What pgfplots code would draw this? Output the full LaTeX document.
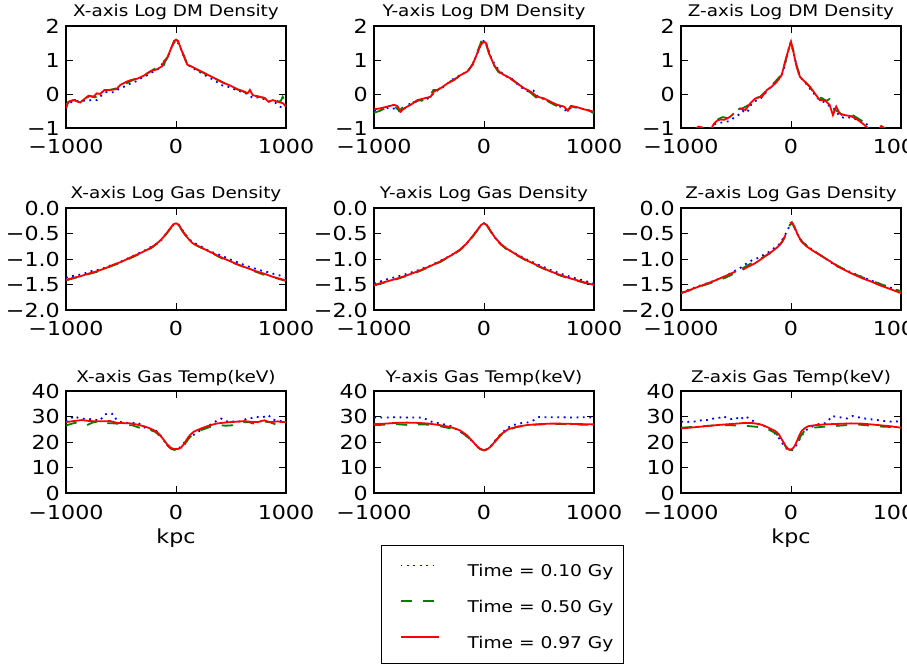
\documentclass[border=0pt]{standalone}
\usepackage{fontspec}
\setmainfont{DejaVu Sans}[FakeStretch=1.15]
\usepackage{pgfplots}
\pgfplotsset{compat=1.18}
\newcommand\tickfont{\fontsize{19.3}{19.3}\selectfont}
\newcommand\titlefont{\fontsize{16}{16}\selectfont}
\newcommand\legfont{\fontsize{16.2}{16.2}\selectfont}
\definecolor{mplgreen}{rgb}{0,0.5,0}
\pgfplotsset{
  panel/.style={scale only axis, width=220pt, height=102pt,
    xmin=-1000, xmax=1000, xtick={-1000,0,1000}, xticklabels={−1000,0,1000},
    unbounded coords=jump,
    axis line style={line width=1.1pt},
    every tick/.style={black, line width=0.8pt},
    major tick length=7pt,
    title style={font=\titlefont, anchor=base, yshift=3pt, inner sep=0pt},
    xticklabel style={font=\tickfont, anchor=base, inner sep=0pt, yshift=-26pt},
    yticklabel style={font=\tickfont, anchor=east, inner sep=0pt, xshift=-6pt},
    xlabel style={font=\tickfont, at={(axis description cs:0.5,0)}, anchor=base, yshift=-50pt, inner sep=0pt},
  },
  dmrow/.style={ymin=-1, ymax=2, ytick={-1,0,1,2}, yticklabels={−1,0,1,2}},
  gasrow/.style={ymin=-2, ymax=0, ytick={-2,-1.5,-1,-0.5,0}, yticklabels={−2.0,−1.5,−1.0,−0.5,0.0}},
  temprow/.style={ymin=0, ymax=40, ytick={0,10,20,30,40}, yticklabels={0,10,20,30,40}},
  sa/.style={blue, line width=1.8pt, dash pattern=on 1.8pt off 4.6pt},
  sb/.style={mplgreen, line width=1.8pt, dash pattern=on 11pt off 11pt},
  sc/.style={red, line width=1.8pt},
}
\begin{document}
\begin{tikzpicture}
% ---------------- Row 1: DM density ----------------
\begin{axis}[panel, dmrow, at={(66pt,537pt)}, anchor=south west, title={X-axis Log DM Density}]
\addplot[sa] coordinates {(-1000,-0.38)(-970,-0.26)(-930,-0.22)(-880,-0.2)(-840,-0.2)(-800,-0.2)(-760,-0.17)(-720,-0.18)(-680,-0.05)(-640,0.05)(-600,0.05)(-560,0.05)(-520,0.15)(-480,0.2)(-440,0.28)(-400,0.32)(-360,0.38)(-320,0.46)(-280,0.52)(-240,0.6)(-200,0.67)(-150,0.76)(-110,0.96)(-90,1.0)(-60,1.2)(-30,1.45)(0,1.58)(30,1.45)(60,1.2)(100,0.88)(150,0.76)(200,0.68)(250,0.58)(300,0.48)(350,0.41)(400,0.28)(450,0.22)(500,0.2)(550,0.1)(600,0.07)(650,0.0)(700,-0.12)(750,-0.1)(800,-0.15)(850,-0.22)(900,-0.25)(950,-0.38)(1000,-0.35)};
\addplot[sb] coordinates {(-1000,-0.30)(-970,-0.22)(-930,-0.18)(-880,-0.17)(-850,-0.12)(-820,-0.12)(-780,-0.06)(-740,-0.1)(-700,-0.05)(-660,0.08)(-600,0.12)(-540,0.17)(-500,0.25)(-440,0.33)(-400,0.40)(-350,0.47)(-300,0.53)(-250,0.63)(-200,0.73)(-150,0.80)(-120,0.75)(-100,0.95)(-70,1.12)(-40,1.35)(-15,1.55)(0,1.60)(20,1.55)(60,1.22)(100,0.90)(130,0.84)(170,0.76)(200,0.70)(250,0.62)(300,0.53)(350,0.46)(400,0.38)(450,0.30)(500,0.22)(550,0.14)(600,0.09)(650,0.01)(700,-0.04)(750,-0.07)(800,-0.12)(850,-0.18)(900,-0.20)(950,-0.22)(970,-0.08)(1000,-0.30)};
\addplot[sc] coordinates {(-1000,-0.42)(-979,-0.23)(-933,-0.18)(-872,-0.25)(-826,-0.13)(-796,-0.05)(-750,-0.08)(-720,0.02)(-690,0.0)(-650,0.12)(-597,0.12)(-542,0.14)(-505,0.27)(-444,0.37)(-399,0.42)(-353,0.45)(-292,0.54)(-231,0.67)(-177,0.72)(-125,0.82)(-110,0.96)(-79,1.07)(-49,1.31)(-18,1.56)(0,1.59)(18,1.56)(58,1.22)(103,0.86)(134,0.82)(164,0.77)(195,0.72)(256,0.62)(316,0.52)(377,0.42)(438,0.32)(499,0.24)(560,0.14)(621,0.07)(651,0.02)(672,0.12)(697,-0.03)(743,-0.08)(804,-0.11)(840,-0.23)(880,-0.18)(925,-0.23)(971,-0.27)(1000,-0.37)};
\end{axis}
\begin{axis}[panel, dmrow, at={(374pt,537pt)}, anchor=south west, title={Y-axis Log DM Density}]
\addplot[sa] coordinates {(-1000,-0.48)(-950,-0.45)(-900,-0.42)(-850,-0.4)(-800,-0.45)(-760,-0.52)(-720,-0.42)(-680,-0.3)(-640,-0.25)(-600,-0.22)(-550,-0.18)(-500,-0.12)(-450,0.05)(-400,0.15)(-350,0.25)(-300,0.4)(-250,0.5)(-200,0.58)(-150,0.66)(-100,0.88)(-60,1.2)(-30,1.45)(0,1.58)(30,1.4)(60,1.1)(100,0.85)(150,0.65)(200,0.52)(250,0.46)(300,0.3)(350,0.17)(400,0.08)(450,0.1)(500,-0.12)(550,-0.15)(600,-0.22)(650,-0.32)(700,-0.38)(750,-0.5)(800,-0.38)(850,-0.4)(900,-0.44)(950,-0.48)(1000,-0.5)};
\addplot[sb] coordinates {(-1000,-0.55)(-950,-0.5)(-900,-0.42)(-850,-0.38)(-800,-0.4)(-770,-0.5)(-740,-0.4)(-700,-0.33)(-650,-0.25)(-600,-0.2)(-550,-0.17)(-500,-0.1)(-460,0.12)(-420,0.12)(-380,0.22)(-340,0.3)(-300,0.38)(-260,0.45)(-220,0.53)(-180,0.6)(-140,0.7)(-100,0.9)(-60,1.25)(-30,1.5)(-10,1.66)(0,1.6)(20,1.45)(50,1.15)(90,0.85)(130,0.65)(180,0.55)(240,0.45)(300,0.32)(360,0.16)(420,0.05)(480,-0.12)(540,-0.14)(600,-0.25)(660,-0.35)(720,-0.4)(760,-0.48)(790,-0.36)(850,-0.42)(900,-0.45)(950,-0.48)(1000,-0.57)};
\addplot[sc] coordinates {(-1000,-0.45)(-940,-0.42)(-879,-0.37)(-819,-0.32)(-788,-0.35)(-758,-0.52)(-727,-0.42)(-667,-0.32)(-606,-0.18)(-545,-0.13)(-485,-0.08)(-455,0.07)(-394,0.17)(-333,0.31)(-273,0.41)(-212,0.56)(-152,0.66)(-106,0.85)(-61,1.20)(-30,1.44)(0,1.54)(21,1.49)(45,1.20)(91,0.85)(136,0.66)(182,0.56)(242,0.46)(303,0.31)(364,0.17)(424,0.07)(485,-0.08)(545,-0.13)(606,-0.23)(667,-0.32)(727,-0.37)(763,-0.49)(793,-0.35)(848,-0.39)(908,-0.45)(1000,-0.52)};
\end{axis}
\begin{axis}[panel, dmrow, at={(681pt,537pt)}, anchor=south west, title={Z-axis Log DM Density}]
\addplot[sa] coordinates {(-1000,-1.4)(-750,-1.1)(-700,-0.9)(-650,-0.85)(-600,-0.82)(-560,-0.8)(-520,-0.7)(-480,-0.62)(-440,-0.5)(-400,-0.55)(-360,-0.3)(-320,-0.2)(-280,-0.15)(-240,0.0)(-200,0.15)(-160,0.3)(-120,0.42)(-90,0.5)(-60,0.8)(-30,1.2)(-10,1.48)(0,1.5)(20,1.25)(50,0.85)(80,0.5)(120,0.38)(160,0.2)(200,0.05)(240,-0.12)(280,-0.2)(320,-0.28)(360,-0.38)(400,-0.45)(440,-0.65)(480,-0.7)(520,-0.68)(560,-0.72)(600,-0.75)(650,-0.8)(700,-0.92)(750,-1.1)(1000,-1.4)};
\addplot[sb] coordinates {(-1000,-1.4)(-800,-1.2)(-720,-0.95)(-690,-0.8)(-650,-0.72)(-620,-0.68)(-590,-0.7)(-560,-0.73)(-530,nan)(-480,-0.45)(-440,-0.42)(-400,-0.35)(-360,-0.25)(-320,-0.12)(-280,-0.08)(-240,0.05)(-200,0.18)(-160,0.3)(-120,0.45)(-90,0.55)(-60,0.85)(-30,1.2)(0,1.5)(20,1.3)(50,0.85)(80,0.55)(120,0.4)(160,0.25)(200,0.08)(240,-0.1)(280,-0.12)(320,-0.2)(350,-0.15)(380,-0.45)(420,-0.5)(460,-0.6)(480,-0.75)(510,nan)(560,-0.62)(600,-0.7)(640,-0.78)(680,-0.92)(720,-1.1)(800,-1.3)(1000,-1.4)};
\addplot[sc] coordinates {(-1000,-1.3)(-900,-1.15)(-860,-1.0)(-840,-0.96)(-810,-0.98)(-790,-1.1)(-760,-1.2)(-730,-1.05)(-700,-0.87)(-670,-0.78)(-640,-0.75)(-610,-0.76)(-580,-0.72)(-550,-0.66)(-520,-0.57)(-500,nan)(-470,-0.42)(-440,-0.44)(-414,-0.47)(-390,-0.36)(-369,-0.27)(-324,-0.13)(-290,-0.1)(-264,-0.08)(-219,0.12)(-174,0.22)(-129,0.36)(-84,0.56)(-54,0.95)(-24,1.29)(0,1.54)(21,1.25)(51,0.8)(81,0.51)(126,0.36)(171,0.22)(216,0.02)(261,-0.18)(306,-0.18)(351,-0.32)(381,-0.62)(411,-0.37)(441,-0.57)(486,-0.62)(546,-0.65)(607,-0.76)(667,-0.91)(697,-1.0)(740,-1.2)(790,-1.1)(820,-0.94)(850,-1.0)(900,-1.2)(1000,-1.4)};
\end{axis}
% ---------------- Row 2: gas density ----------------
\begin{axis}[panel, gasrow, at={(66pt,355pt)}, anchor=south west, title={X-axis Log Gas Density}]
\addplot[sa] coordinates {(-1000,-1.37)(-960,-1.34)(-900,-1.32)(-840,-1.29)(-780,-1.24)(-720,-1.22)(-660,-1.18)(-600,-1.13)(-540,-1.09)(-480,-1.03)(-420,-0.97)(-360,-0.91)(-300,-0.85)(-240,-0.78)(-180,-0.70)(-130,-0.62)(-90,-0.5)(-50,-0.4)(-20,-0.32)(0,-0.31)(20,-0.33)(50,-0.41)(90,-0.53)(130,-0.63)(180,-0.70)(240,-0.77)(300,-0.84)(360,-0.89)(420,-0.94)(480,-1.0)(540,-1.05)(600,-1.1)(660,-1.15)(720,-1.19)(780,-1.23)(840,-1.26)(900,-1.3)(960,-1.33)(1000,-1.36)};
\addplot[sb] coordinates {(-1000,-1.42)(-900,-1.36)(-800,-1.3)(-700,-1.24)(-600,-1.15)(-500,-1.07)(-400,-0.97)(-300,-0.87)(-220,-0.78)(-160,-0.68)(-110,-0.57)(-60,-0.43)(-25,-0.33)(0,-0.31)(25,-0.34)(60,-0.46)(100,-0.58)(150,-0.69)(200,-0.75)(300,-0.85)(400,-0.97)(500,-1.06)(600,-1.14)(700,-1.23)(800,-1.31)(900,-1.37)(1000,-1.43)};
\addplot[sc] coordinates {(-1000,-1.41)(-936,-1.37)(-872,-1.34)(-800,-1.29)(-720,-1.24)(-640,-1.18)(-567,-1.11)(-490,-1.05)(-415,-0.97)(-340,-0.90)(-262,-0.82)(-210,-0.75)(-171,-0.69)(-140,-0.63)(-110,-0.56)(-80,-0.48)(-49,-0.39)(-25,-0.32)(0,-0.30)(27,-0.33)(50,-0.42)(73,-0.49)(96,-0.56)(119,-0.62)(150,-0.69)(195,-0.74)(270,-0.82)(347,-0.90)(423,-0.98)(499,-1.05)(575,-1.12)(651,-1.18)(727,-1.24)(804,-1.29)(880,-1.35)(950,-1.39)(1000,-1.42)};
\end{axis}
\begin{axis}[panel, gasrow, at={(374pt,355pt)}, anchor=south west, title={Y-axis Log Gas Density}]
\addplot[sa] coordinates {(-1000,-1.48)(-900,-1.41)(-800,-1.35)(-700,-1.29)(-600,-1.22)(-500,-1.14)(-400,-1.04)(-300,-0.93)(-220,-0.82)(-160,-0.7)(-110,-0.57)(-60,-0.43)(-25,-0.33)(0,-0.30)(25,-0.33)(60,-0.45)(100,-0.58)(150,-0.7)(200,-0.79)(300,-0.91)(400,-1.02)(500,-1.12)(600,-1.21)(700,-1.29)(800,-1.36)(900,-1.42)(1000,-1.48)};
\addplot[sb] coordinates {(-1000,-1.52)(-900,-1.46)(-800,-1.4)(-700,-1.33)(-600,-1.25)(-500,-1.16)(-400,-1.06)(-300,-0.94)(-220,-0.83)(-160,-0.71)(-110,-0.58)(-60,-0.44)(-25,-0.33)(0,-0.30)(25,-0.34)(60,-0.46)(100,-0.59)(150,-0.71)(200,-0.8)(300,-0.93)(400,-1.05)(500,-1.15)(600,-1.25)(700,-1.33)(800,-1.4)(900,-1.46)(1000,-1.52)};
\addplot[sc] coordinates {(-1000,-1.51)(-900,-1.45)(-800,-1.39)(-700,-1.32)(-600,-1.24)(-500,-1.15)(-400,-1.05)(-300,-0.93)(-220,-0.82)(-160,-0.7)(-110,-0.57)(-60,-0.43)(-25,-0.33)(0,-0.30)(25,-0.33)(60,-0.45)(100,-0.58)(150,-0.7)(200,-0.79)(300,-0.92)(400,-1.04)(500,-1.14)(600,-1.24)(700,-1.32)(800,-1.39)(900,-1.45)(1000,-1.51)};
\end{axis}
\begin{axis}[panel, gasrow, at={(681pt,355pt)}, anchor=south west, title={Z-axis Log Gas Density}]
\addplot[sa] coordinates {(-1000,-1.66)(-900,-1.58)(-800,-1.5)(-700,-1.43)(-600,-1.34)(-550,-1.28)(-500,-1.22)(-450,-1.16)(-400,-1.08)(-350,-1.02)(-300,-0.98)(-250,-0.92)(-200,-0.86)(-150,-0.78)(-100,-0.7)(-60,-0.55)(-40,-0.47)(-20,-0.38)(0,-0.3)(20,-0.33)(50,-0.48)(100,-0.66)(200,-0.83)(300,-0.97)(400,-1.12)(500,-1.22)(600,-1.31)(700,-1.4)(800,-1.48)(900,-1.56)(950,-1.6)(1000,-1.65)};
\addplot[sb] coordinates {(-1000,-1.67)(-900,-1.6)(-800,-1.52)(-700,-1.45)(-600,-1.37)(-500,-1.27)(-460,-1.21)(-400,-1.13)(-300,-1.02)(-200,-0.9)(-130,-0.8)(-80,-0.66)(-40,-0.5)(-10,-0.33)(10,-0.29)(40,-0.43)(80,-0.61)(150,-0.76)(250,-0.9)(350,-1.04)(430,-1.14)(500,-1.22)(560,-1.28)(650,-1.36)(750,-1.44)(850,-1.52)(950,-1.6)(1000,-1.63)};
\addplot[sc] coordinates {(-1000,-1.67)(-925,-1.61)(-850,-1.55)(-775,-1.49)(-700,-1.43)(-625,-1.36)(-550,-1.29)(-500,-1.24)(-480,nan)(-440,-1.21)(-380,-1.14)(-324,-1.08)(-270,-1.0)(-219,-0.92)(-165,-0.84)(-114,-0.75)(-90,-0.69)(-69,-0.62)(-50,-0.53)(-35,nan)(-10,-0.3)(6,-0.28)(20,-0.32)(36,-0.39)(60,-0.52)(96,-0.66)(140,-0.75)(186,-0.82)(246,-0.9)(306,-0.98)(366,-1.06)(426,-1.15)(500,-1.23)(577,-1.31)(650,-1.38)(727,-1.44)(800,-1.51)(877,-1.57)(940,-1.62)(1000,-1.67)};
\end{axis}
% ---------------- Row 3: gas temperature ----------------
\begin{axis}[panel, temprow, at={(66pt,172pt)}, anchor=south west, title={X-axis Gas Temp(keV)}, xlabel={kpc}]
\addplot[sa] coordinates {(-1000,28.0)(-970,28.6)(-930,30.2)(-890,29.5)(-850,29.2)(-810,28.8)(-770,29.0)(-730,28.7)(-690,28.4)(-650,30.8)(-610,31.2)(-570,31.0)(-540,28.6)(-500,27.8)(-450,27.4)(-400,27.5)(-350,27.7)(-300,26.0)(-260,25.2)(-220,25.0)(-180,24.4)(-140,22.5)(-100,20.0)(-60,18.0)(-20,17.1)(0,17.0)(30,17.6)(70,19.5)(110,21.5)(160,22.8)(200,24.0)(250,25.2)(290,26.0)(330,27.4)(380,28.5)(410,29.2)(450,28.4)(490,27.6)(530,28.2)(570,28.0)(610,28.4)(650,29.3)(690,29.4)(730,29.9)(770,29.6)(810,30.0)(840,30.6)(870,29.0)(900,28.6)(940,28.3)(1000,28.1)};
\addplot[sb] coordinates {(-1000,26.5)(-960,27.0)(-920,27.5)(-880,27.6)(-840,26.6)(-800,26.8)(-760,27.6)(-720,28.0)(-690,28.6)(-660,28.2)(-620,27.4)(-560,27.3)(-500,27.0)(-440,26.5)(-400,26.6)(-340,25.7)(-290,25.2)(-240,24.8)(-190,24.0)(-150,22.5)(-110,20.3)(-70,18.3)(-40,17.2)(0,16.8)(40,17.3)(70,18.5)(110,21.0)(150,23.0)(200,24.3)(250,25.0)(300,25.8)(350,26.3)(400,26.6)(450,26.4)(500,26.5)(560,27.3)(620,27.8)(660,27.8)(700,27.3)(760,27.4)(800,28.0)(850,27.8)(900,27.0)(940,26.8)(1000,27.3)};
\addplot[sc] coordinates {(-1000,27.8)(-933,28.2)(-857,28.6)(-780,28.2)(-690,28.1)(-598,28.2)(-537,27.5)(-415,27.3)(-350,26.8)(-293,26.2)(-240,25.4)(-186,24.3)(-150,23.0)(-125,21.6)(-100,20.2)(-79,19.0)(-49,17.7)(-20,17.3)(0,17.2)(20,17.3)(43,17.7)(65,18.8)(88,20.3)(110,21.8)(134,23.0)(160,24.0)(195,24.7)(240,25.5)(286,26.2)(330,26.8)(377,27.3)(440,27.6)(499,27.8)(560,28.0)(621,28.2)(680,27.9)(743,27.8)(775,28.2)(804,28.5)(835,28.0)(864,27.8)(925,28.1)(960,27.8)(1000,27.9)};
\end{axis}
\begin{axis}[panel, temprow, at={(374pt,172pt)}, anchor=south west, title={Y-axis Gas Temp(keV)},
  legend cell align=left,
  legend image code/.code={\draw[#1,draw=none,fill=none] (0pt,-4pt) rectangle (76pt,12pt); \draw[#1] (9pt,6pt) -- (47pt,6pt);},
  legend style={at={(0.032,-0.514)}, anchor=north west, draw=black, line width=1pt,
    inner xsep=10pt, inner ysep=13.5pt, row sep=17pt, font=\legfont,
    nodes={inner sep=0pt}}]
\addplot[sa] coordinates {(-1000,29.6)(-900,29.6)(-800,29.7)(-700,29.6)(-600,29.6)(-550,29.5)(-500,28.3)(-450,27.6)(-400,27.3)(-350,26.8)(-300,26.2)(-250,25.0)(-200,23.6)(-150,22.0)(-100,20.0)(-60,18.2)(-30,17.2)(0,16.7)(30,17.2)(60,18.3)(100,20.5)(150,23.0)(200,25.0)(250,26.5)(300,27.0)(350,27.5)(400,27.7)(450,28.5)(500,29.8)(600,29.7)(700,29.7)(800,29.6)(900,29.7)(1000,29.6)};
\addlegendentry{Time = 0.10 Gy}
\addplot[sb] coordinates {(-1000,26.6)(-900,26.8)(-800,27.0)(-700,26.7)(-600,26.9)(-500,26.8)(-400,26.2)(-300,25.3)(-220,24.2)(-160,22.4)(-110,20.3)(-70,18.4)(-35,17.2)(0,16.7)(35,17.2)(70,18.4)(110,20.6)(160,23.0)(220,24.8)(300,25.9)(400,26.6)(500,26.9)(600,27.0)(700,27.1)(800,26.9)(900,26.8)(1000,26.7)};
\addlegendentry{Time = 0.50 Gy}
\addplot[sc] coordinates {(-1000,27.0)(-900,27.2)(-800,27.5)(-700,27.6)(-600,27.5)(-500,27.2)(-400,26.6)(-300,25.8)(-220,24.6)(-160,22.8)(-110,20.6)(-70,18.6)(-35,17.3)(0,16.8)(35,17.3)(70,18.6)(110,20.8)(160,23.2)(220,25.0)(300,26.0)(400,26.7)(500,27.0)(600,27.2)(700,27.2)(800,27.1)(900,27.0)(1000,26.9)};
\addlegendentry{Time = 0.97 Gy}
\end{axis}
\begin{axis}[panel, temprow, at={(681pt,172pt)}, anchor=south west, title={Z-axis Gas Temp(keV)}, xlabel={kpc}]
\addplot[sa] coordinates {(-1000,28.0)(-950,27.8)(-900,28.1)(-850,28.0)(-800,28.8)(-750,28.5)(-700,29.3)(-650,29.5)(-620,30.2)(-580,29.4)(-540,29.0)(-500,29.6)(-460,28.6)(-430,30.1)(-390,29.5)(-350,28.4)(-300,27.0)(-250,26.5)(-200,25.0)(-150,23.5)(-100,21.0)(-70,19.0)(-40,17.4)(0,16.5)(30,17.5)(60,19.5)(90,22.0)(130,24.5)(180,25.8)(250,27.0)(300,27.2)(340,28.3)(370,30.2)(400,30.0)(430,29.8)(470,29.5)(510,29.2)(560,30.2)(600,29.8)(650,29.4)(700,29.0)(750,28.8)(800,28.5)(850,28.2)(900,28.0)(950,28.1)(1000,28.0)};
\addplot[sb] coordinates {(-1000,25.6)(-900,25.9)(-800,26.2)(-700,26.5)(-600,26.6)(-500,26.5)(-400,26.3)(-300,25.9)(-200,24.8)(-140,23.5)(-90,21.0)(-50,18.3)(-20,17.1)(0,16.8)(20,17.2)(50,18.6)(90,22.5)(130,24.8)(200,25.6)(300,26.0)(400,26.3)(500,26.6)(600,26.9)(700,26.5)(800,26.1)(900,25.9)(1000,25.7)};
\addplot[sc] coordinates {(-1000,25.3)(-900,25.7)(-775,26.2)(-680,26.6)(-595,26.9)(-500,27.2)(-414,27.5)(-350,27.4)(-294,27.1)(-250,26.5)(-204,25.6)(-144,24.3)(-110,23.0)(-84,21.0)(-60,19.3)(-39,17.7)(-20,17.1)(-9,17.0)(5,17.2)(21,17.7)(40,19.0)(60,21.0)(78,22.8)(96,24.3)(125,25.4)(156,26.2)(220,26.6)(306,26.9)(420,27.1)(547,27.3)(640,27.2)(727,26.9)(800,26.6)(900,26.2)(1000,25.6)};
\end{axis}
\pgfresetboundingbox
\path[use as bounding box] (0pt,0pt) rectangle (907pt,665pt);
\end{tikzpicture}
\end{document}
